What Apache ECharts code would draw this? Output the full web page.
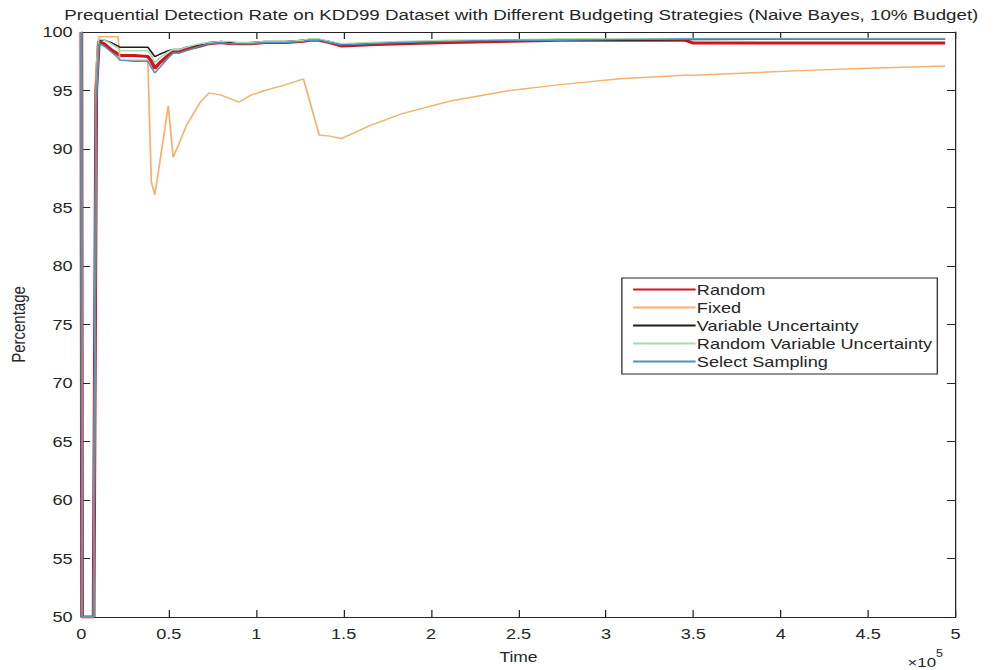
<!DOCTYPE html>
<html>
<head>
<meta charset="utf-8">
<script src="https://cdn.jsdelivr.net/npm/echarts@6/dist/echarts.min.js"></script>
<style>
html,body{margin:0;padding:0;background:#fff;overflow:hidden;}
/* the figure is laid out narrow and widened to the page width */
#chart{width:806px;height:670px;transform:scaleX(1.25);transform-origin:0 0;}
</style>
</head>
<body>
<div id="chart"></div>
<script>
// Sample index (thousands of instances) shared by every series
const timeK = [0, 0.4, 7, 8.5, 10, 13, 17, 21, 22, 30, 38, 40, 42, 45, 49.7, 52.5, 56, 60, 68, 73, 80, 85, 90, 97, 105, 117, 127, 130, 136, 142, 149, 165, 183, 211, 245, 274, 308, 345, 350, 411, 450, 494];

// Prequential detection rate (%) per budgeting strategy
const randomRate = [100, 50, 50, 95, 99.2, 99.0, 98.5, 98.1, 98.0, 98.0, 97.9, 97.5, 96.9, 97.4, 98.0, 98.3, 98.3, 98.5, 98.8, 99.0, 99.1, 99.0, 99.0, 99.0, 99.1, 99.1, 99.2, 99.3, 99.3, 99.1, 98.8, 98.9, 99.0, 99.1, 99.2, 99.3, 99.3, 99.3, 99.05, 99.05, 99.05, 99.05];
const fixedRate = [100, 50, 50, 97, 99.6, 99.6, 99.6, 99.6, 97.6, 97.6, 97.6, 87.2, 86.1, 89.0, 93.7, 89.3, 90.5, 92.0, 94.0, 94.8, 94.6, 94.3, 94.0, 94.6, 95.0, 95.5, 96.0, 94.4, 91.2, 91.1, 90.9, 92.0, 93.0, 94.1, 95.0, 95.5, 96.0, 96.3, 96.3, 96.7, 96.9, 97.1];
const varUncRate = [100, 50, 50, 95, 99.3, 99.3, 99.1, 98.8, 98.7, 98.7, 98.7, 98.3, 97.9, 98.1, 98.4, 98.5, 98.5, 98.7, 98.9, 99.1, 99.2, 99.1, 99.0, 99.1, 99.2, 99.2, 99.3, 99.3, 99.3, 99.2, 98.9, 99.0, 99.1, 99.2, 99.3, 99.3, 99.3, 99.35, 99.35, 99.4, 99.4, 99.4];
const randVarUncRate = [100, 50, 50, 95, 99.4, 99.3, 99.0, 98.6, 98.4, 98.4, 98.4, 98.0, 97.4, 97.8, 98.3, 98.5, 98.5, 98.7, 99.0, 99.1, 99.2, 99.2, 99.1, 99.1, 99.2, 99.2, 99.3, 99.4, 99.4, 99.2, 99.0, 99.1, 99.2, 99.3, 99.35, 99.4, 99.4, 99.45, 99.45, 99.45, 99.45, 99.45];
const selectRate = [100, 50, 50, 94, 99.0, 98.8, 98.3, 97.8, 97.6, 97.5, 97.5, 97.0, 96.5, 97.0, 97.8, 98.2, 98.2, 98.4, 98.8, 99.0, 99.1, 99.0, 99.0, 99.0, 99.1, 99.1, 99.2, 99.3, 99.3, 99.1, 98.9, 99.0, 99.1, 99.2, 99.3, 99.3, 99.35, 99.4, 99.4, 99.4, 99.4, 99.4];

const seriesNames = ['Random', 'Fixed', 'Variable Uncertainty', 'Random Variable Uncertainty', 'Select Sampling'];
const seriesValues = [randomRate, fixedRate, varUncRate, randVarUncRate, selectRate];
const seriesColors = ['#d2141e', '#f5b26e', '#1e1e1e', '#a9d9b0', '#4f93bd'];
const seriesWidths = [3, 1.4, 1.4, 1.4, 1.4];

const yTicks = [50, 55, 60, 65, 70, 75, 80, 85, 90, 95, 100];
const xTickLabels = ['0', '0.5', '1', '1.5', '2', '2.5', '3', '3.5', '4', '4.5', '5'];

const FONT = 'Liberation Sans, Arial, sans-serif';
const INK = '#262626';

const chart = echarts.init(document.getElementById('chart'), null, {renderer: 'svg'});

const pairs = vals => timeK.map((t, i) => [t * 1000, vals[i]]);

const axisCommon = {
  axisLine: {show: true, onZero: false, lineStyle: {color: INK, width: 1}},
  axisTick: {show: true, inside: true, length: 7, lineStyle: {color: INK}},
  splitLine: {show: false}
};

chart.setOption({
  animation: false,
  backgroundColor: '#fff',
  title: {
    text: 'Prequential Detection Rate on KDD99 Dataset with Different Budgeting Strategies (Naive Bayes, 10% Budget)',
    left: 412, top: 3, textAlign: 'center',
    textStyle: {fontFamily: FONT, fontSize: 15, fontWeight: 'normal', color: INK}
  },
  grid: {left: 64, right: 41.5, top: 32, bottom: 53, containLabel: false},
  legend: {
    orient: 'vertical', left: 497.5, top: 278,
    itemWidth: 50, itemHeight: 12, itemGap: 3,
    padding: [4, 4, 5, 8],
    borderColor: INK, borderWidth: 1, backgroundColor: '#fff',
    itemStyle: {opacity: 0},
    textStyle: {fontFamily: FONT, fontSize: 14.5, color: INK, padding: [0, 0, 0, -4]},
    data: seriesNames
  },
  xAxis: [
    Object.assign({}, axisCommon, {
      type: 'value', min: 0, max: 500000, interval: 50000, position: 'bottom',
      name: 'Time', nameLocation: 'middle', nameGap: 33,
      nameTextStyle: {fontFamily: FONT, fontSize: 14, color: INK},
      axisLabel: {fontFamily: FONT, fontSize: 14.5, color: INK, margin: 9,
        formatter: (v) => xTickLabels[Math.round(v / 50000)]}
    }),
    Object.assign({}, axisCommon, {
      type: 'value', min: 0, max: 500000, interval: 50000, position: 'top',
      axisLabel: {show: false}
    })
  ],
  yAxis: [
    Object.assign({}, axisCommon, {
      type: 'value', min: yTicks[0], max: yTicks[yTicks.length - 1], interval: 5, position: 'left',
      name: 'Percentage', nameLocation: 'middle', nameGap: 42, nameRotate: 90,
      nameTextStyle: {fontFamily: FONT, fontSize: 15, color: INK},
      axisLabel: {fontFamily: FONT, fontSize: 14.5, color: INK, margin: 7}
    }),
    Object.assign({}, axisCommon, {
      type: 'value', min: yTicks[0], max: yTicks[yTicks.length - 1], interval: 5, position: 'right',
      axisLabel: {show: false}
    })
  ],
  graphic: [{
    type: 'text', left: 726, top: 648,
    style: {
      text: '{b|×10}{s|5}',
      rich: {
        b: {fontFamily: FONT, fontSize: 13.5, fill: INK, verticalAlign: 'bottom', padding: [7, 0, 0, 0]},
        s: {fontFamily: FONT, fontSize: 10, fill: INK, verticalAlign: 'top'}
      }
    }
  }],
  series: seriesNames.map((name, i) => ({
    name: name, type: 'line', xAxisIndex: 0, yAxisIndex: 0,
    data: pairs(seriesValues[i]),
    showSymbol: false, symbol: 'none', smooth: false,
    clip: true,
    lineStyle: {color: seriesColors[i], width: seriesWidths[i]},
    itemStyle: {color: seriesColors[i]},
    z: 2 + i
  }))
});
</script>
</body>
</html>
